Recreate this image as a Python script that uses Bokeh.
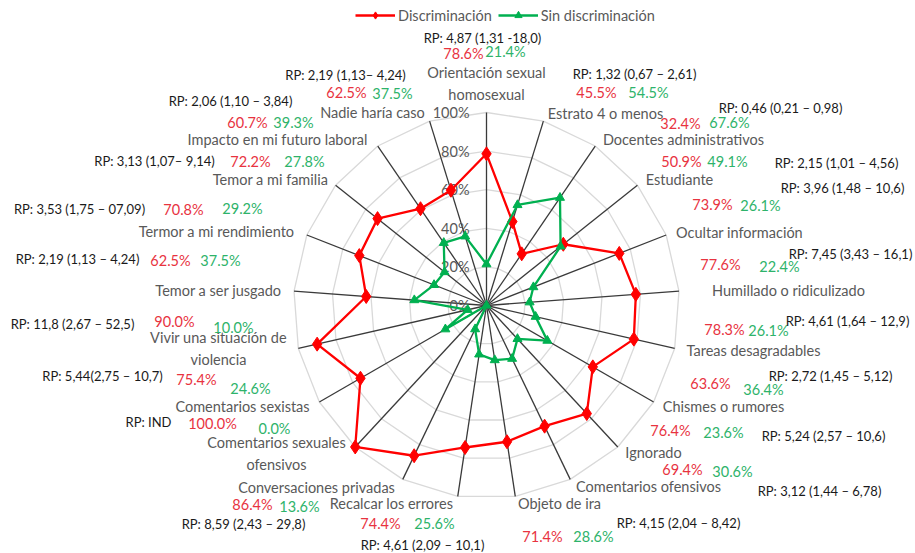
import numpy as np
from bokeh.plotting import figure
from bokeh.models import Range1d, Legend, LegendItem
from bokeh.core.properties import value
from bokeh.embed import file_html
from bokeh.resources import INLINE

# ---------------- data ----------------
categories = [
    "Orientación sexual\nhomosexual", "Estrato 4 o menos", "Docentes administrativos",
    "Estudiante", "Ocultar información", "Humillado o ridiculizado", "Tareas desagradables",
    "Chismes o rumores", "Ignorado", "Comentarios ofensivos", "Objeto de ira",
    "Recalcar los errores", "Conversaciones privadas", "Comentarios sexuales\nofensivos",
    "Comentarios sexistas", "Vivir una situación de\nviolencia", "Temor a ser jusgado",
    "Termor a mi rendimiento", "Temor a mi familia", "Impacto en mi futuro laboral",
    "Nadie haría caso",
]
discriminacion = [78.6, 45.5, 32.4, 50.9, 73.9, 77.6, 78.3, 63.6, 76.4, 69.4, 71.4,
                  74.4, 86.4, 100.0, 75.4, 90.0, 62.5, 70.8, 72.2, 60.7, 62.5]
sin_discriminacion = [21.4, 54.5, 67.6, 49.1, 26.1, 22.4, 26.1, 36.4, 23.6, 30.6, 28.6,
                      25.6, 13.6, 0.0, 24.6, 10.0, 37.5, 29.2, 27.8, 39.3, 37.5]
rp_labels = [
    "RP: 4,87 (1,31 -18,0)", "RP: 1,32 (0,67 – 2,61)", "RP: 0,46 (0,21 – 0,98)",
    "RP: 2,15 (1,01 – 4,56)", "RP: 3,96 (1,48 – 10,6)", "RP: 7,45 (3,43 – 16,1)",
    "RP: 4,61 (1,64 – 12,9)", "RP: 2,72 (1,45 – 5,12)", "RP: 5,24 (2,57 – 10,6)",
    "RP: 3,12 (1,44 – 6,78)", "RP: 4,15 (2,04 – 8,42)", "RP: 4,61 (2,09 – 10,1)",
    "RP: 8,59 (2,43 – 29,8)", "RP: IND", "RP: 5,44(2,75 – 10,7)",
    "RP: 11,8 (2,67 – 52,5)", "RP: 2,19 (1,13 – 4,24)", "RP: 3,53 (1,75 – 07,09)",
    "RP: 3,13 (1,07– 9,14)", "RP: 2,06 (1,10 – 3,84)", "RP: 2,19 (1,13– 4,24)",
]
ring_ticks = [0, 20, 40, 60, 80, 100]
series_names = ["Discriminación", "Sin discriminación"]

# ---------------- layout (page pixels) ----------------
CX, CY, R = 486, 305, 193
W, H = 915, 553
cat_pos = [(486, 83), (605, 113), (683, 139), (679, 179), (739, 232), (788, 290),
           (753, 350), (723, 406), (653, 452), (648, 486), (559, 503), (391, 503),
           (316, 487), (276, 453), (242, 406), (218, 348), (218, 290), (216, 231),
           (270, 179), (277, 139), (372, 112)]
red_pos = [(463, 53), (596, 92), (680, 123), (681, 161), (712, 204), (720, 264),
           (724, 329), (710, 383), (670, 430), (682, 469), (542, 536), (380, 523),
           (252, 504), (212, 423), (196, 379), (174, 321), (170, 260), (183, 209),
           (250, 161), (247, 122), (346, 92)]
green_pos = [(505, 51), (648, 92), (729, 122), (727, 161), (760, 205), (779, 266),
             (768, 330), (763, 389), (723, 432), (732, 471), (593, 536), (434, 523),
             (299, 506), (274, 428), (250, 388), (233, 327), (220, 260), (242, 208),
             (304, 161), (293, 122), (392, 93)]
rp_pos = [(482, 37), (634, 73), (780, 107), (836, 162), (842, 187), (850, 253),
          (847, 320), (830, 375), (823, 435), (819, 490), (678, 522), (422, 544),
          (243, 523), (148, 421), (102, 375), (72, 323), (77, 258), (79, 208),
          (154, 160), (230, 100), (345, 74)]


def dx(px):
    return px - CX


def dy(py):
    return CY - py


FONT = value("Lato")
GRAY = "#595959"

p = figure(width=W, height=H, output_backend="svg", toolbar_location=None,
           x_range=Range1d(0 - CX, W - CX), y_range=Range1d(CY - H, CY),
           min_border=0, x_axis_location=None, y_axis_location=None,
           outline_line_color=None, background_fill_color="white")
p.grid.visible = False

n = len(categories)
ang = np.pi / 2 - 2 * np.pi * np.arange(n) / n
ca, sa = np.cos(ang), np.sin(ang)

# grid rings (polygons)
ring_xs, ring_ys = [], []
for t in ring_ticks[1:]:
    r = t / 100 * R
    ring_xs.append(list(np.append(r * ca, r * ca[0])))
    ring_ys.append(list(np.append(r * sa, r * sa[0])))
p.multi_line(ring_xs, ring_ys, line_color="#d9d9d9", line_width=1.3)

# spokes
p.segment(x0=np.zeros(n), y0=np.zeros(n), x1=R * ca, y1=R * sa,
          line_color="#3a3a3a", line_width=1.3)

# ring labels
p.text(x=[-17] * len(ring_ticks), y=[t / 100 * R for t in ring_ticks],
       text=[f"{t}%" for t in ring_ticks], text_align="right", text_baseline="middle",
       text_font=FONT, text_font_size="14.5px", text_color=GRAY)

# series
rd = np.array(discriminacion) / 100 * R
gd = np.array(sin_discriminacion) / 100 * R
rx, ry = rd * ca, rd * sa
gx, gy = gd * ca, gd * sa
l1 = p.line(np.append(rx, rx[0]), np.append(ry, ry[0]), line_color="#ff0000", line_width=2.3)
m1 = p.scatter(rx, ry, marker="diamond", size=14, fill_color="#ff0000", line_color="#ff0000")
l2 = p.line(np.append(gx, gx[0]), np.append(gy, gy[0]), line_color="#00b050", line_width=2.3)
m2 = p.scatter(gx, gy, marker="triangle", size=9, fill_color="#00b050", line_color="#00b050")

# category labels
p.text(x=[dx(a) for a, b in cat_pos], y=[dy(b) for a, b in cat_pos], text=categories,
       text_align="center", text_baseline="middle", text_font=FONT,
       text_font_size="14.5px", text_color=GRAY, text_line_height=1.35)

# percentage labels
p.text(x=[dx(a) for a, b in red_pos], y=[dy(b) for a, b in red_pos],
       text=[f"{v:.1f}%" for v in discriminacion], text_align="center",
       text_baseline="middle", text_font=FONT, text_font_size="14.5px", text_color="#e8333f")
p.text(x=[dx(a) for a, b in green_pos], y=[dy(b) for a, b in green_pos],
       text=[f"{v:.1f}%" for v in sin_discriminacion], text_align="center",
       text_baseline="middle", text_font=FONT, text_font_size="14.5px", text_color="#2eb36a")

# RP labels
p.text(x=[dx(a) for a, b in rp_pos], y=[dy(b) for a, b in rp_pos], text=rp_labels,
       text_align="center", text_baseline="middle", text_font=FONT,
       text_font_size="13px", text_color="#1a1a1a")

# legend
legend = Legend(items=[LegendItem(label=series_names[0], renderers=[l1, m1]),
                       LegendItem(label=series_names[1], renderers=[l2, m2])],
                orientation="horizontal", location=(355, H - 24),
                glyph_width=40, glyph_height=18, label_standoff=3, spacing=6,
                padding=0, margin=0, border_line_color=None, background_fill_alpha=0,
                label_text_font="Lato", label_text_font_size="14.5px",
                label_text_color=GRAY, label_height=18)
p.add_layout(legend, "center")

open("out.html", "w").write(file_html(p, INLINE))
